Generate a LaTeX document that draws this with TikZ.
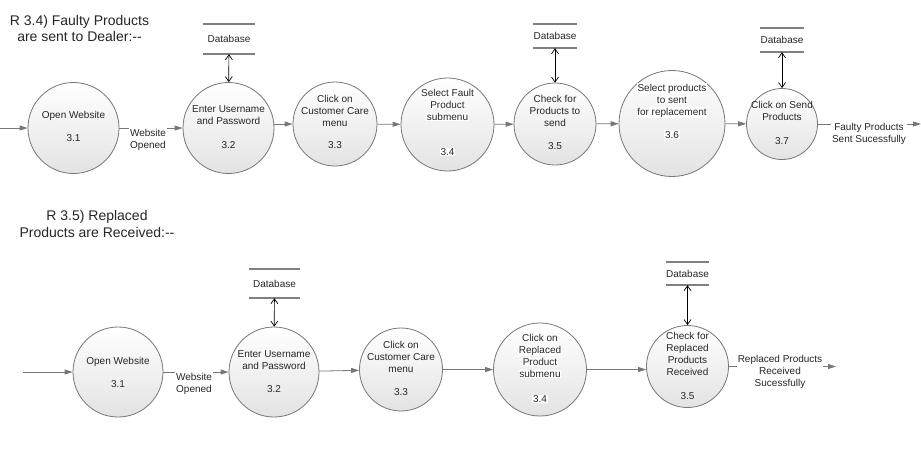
\documentclass[tikz,border=0pt]{standalone}
\usepackage{fontspec}
\setmainfont{Liberation Sans}
\usetikzlibrary{arrows.meta}
\definecolor{edge}{HTML}{777777}
\definecolor{ink}{HTML}{262626}
\newcommand{\wline}[1]{{\setlength{\fboxsep}{0.6pt}\colorbox{white}{#1}}}
\begin{document}
\begin{tikzpicture}[x=1pt,y=-1pt,
 proc/.style={circle, draw=edge, line width=0.8pt, top color=white, bottom color=black!11, inner sep=0pt},
 ptext/.style={align=center, font=\fontsize{10}{12}\selectfont, text=ink, inner sep=0.5pt},
 flow/.style={draw=edge, line width=0.8pt, -{Triangle[length=8pt,width=5pt]}},
 dbarrow/.style={draw=black, line width=0.7pt, {Straight Barb[length=5pt,width=7pt]}-{Straight Barb[length=5pt,width=7pt]}},
 store/.style={inner sep=0pt, font=\fontsize{10}{12}\selectfont, text=ink},
 storeline/.style={draw=black!50, line width=2pt},
 flowlabel/.style={fill=white, align=center, font=\fontsize{10}{12}\selectfont, text=ink, inner xsep=1pt, inner ysep=4pt},
 title/.style={align=center, font=\fontsize{14}{16.5}\selectfont, text=ink}]
\useasboundingbox[fill=white] (0,0) rectangle (921,467);

% ---------- titles
\node[title] (ti1) at (79.5,28.5) {R 3.4) Faulty Products\\are sent to Dealer:-{}-};
\node[title] (ti2) at (97,224) {R 3.5) Replaced\\Products are Received:-{}-};

% ---------- top row processes
\node[proc, minimum size=91pt] (p1) at (73.5,128) {};
\node[proc, minimum size=91pt] (p2) at (228.5,128) {};
\node[proc, minimum size=84pt] (p3) at (335,124) {};
\node[proc, minimum size=93pt] (p4) at (447.5,124.5) {};
\node[proc, minimum size=82pt] (p5) at (555,124) {};
\node[proc, minimum size=106pt] (p6) at (672,123.5) {};
\node[proc, minimum size=71pt] (p7) at (782,124) {};

\node[ptext] (t1) at (73.5,126.5) {Open Website\\[11pt]3.1};
\node[ptext] (t2) at (228.5,127) {Enter Username\\and Password\\[12pt]3.2};
\node[ptext] (t3) at (335,122) {Click on\\Customer Care\\menu\\[10pt]3.3};
\node[ptext] (t4) at (447.5,122.5) {\wline{Select Fault}\\\wline{Product}\\\wline{submenu}\\[23pt]\wline{3.4}};
\node[ptext] (t5) at (555,122.5) {Check for\\Products to\\send\\[11pt]3.5};
\node[ptext] (t6) at (672,111) {\wline{Select products}\\\wline{to sent}\\\wline{for replacement}\\[11pt]\wline{3.6}};
\node[ptext] (t7) at (782,123) {Click on Send\\Products\\[12pt]3.7};

% top databases
\node[store, minimum width=52pt, minimum height=30pt] (d1) at (229,39) {Database};
\node[store, minimum width=42pt, minimum height=24pt] (d2) at (555,36) {Database};
\node[store, minimum width=40pt, minimum height=24pt] (d3) at (782,40) {Database};
\foreach \d in {d1,d2,d3}
  \draw[storeline] (\d.north west) -- (\d.north east) (\d.south west) -- (\d.south east);
\draw[dbarrow] (d1) -- (p2);
\draw[dbarrow] (d2) -- (p5);
\draw[dbarrow] (d3) -- (p7);

% top flows
\coordinate (in1) at (0,128);
\coordinate (out1) at (921,124);
\draw[flow] (in1) -- (p1);
\draw[flow] (p1) -- (p2);
\draw[flow] (p2.east |- p3) -- (p3);
\draw[flow] (p3) -- (p4);
\draw[flow] (p4) -- (p5);
\draw[flow] (p5) -- (p6);
\draw[flow] (p6) -- (p7);
\draw[flow] (p7) -- (out1);
\node[flowlabel] (fl1) at (148,139.5) {Website\\Opened};
\node[flowlabel] (fl2) at (869,134) {Faulty Products\\Sent Sucessfully};

% ---------- bottom row processes
\node[proc, minimum size=90pt] (q1) at (118,372) {};
\node[proc, minimum size=90pt] (q2) at (274,372) {};
\node[proc, minimum size=83pt] (q3) at (401,369.5) {};
\node[proc, minimum size=93pt] (q4) at (540,369.5) {};
\node[proc, minimum size=82pt] (q5) at (687.5,366.5) {};

\node[ptext] (u1) at (118,372) {Open Website\\[11pt]3.1};
\node[ptext] (u2) at (274,372) {Enter Username\\and Password\\[11pt]3.2};
\node[ptext] (u3) at (401,368.5) {Click on\\Customer Care\\menu\\[11pt]3.3};
\node[ptext] (u4) at (540,368.5) {\wline{Click on}\\\wline{Replaced}\\\wline{Product}\\\wline{submenu}\\[13pt]\wline{3.4}};
\node[ptext] (u5) at (687.5,365.5) {Check for\\Replaced\\Products\\Received\\[12pt]3.5};

% bottom databases
\node[store, minimum width=50pt, minimum height=29pt] (e1) at (274.5,283.5) {Database};
\node[store, minimum width=41pt, minimum height=23pt] (e2) at (687.5,273.5) {Database};
\foreach \d in {e1,e2}
  \draw[storeline] (\d.north west) -- (\d.north east) (\d.south west) -- (\d.south east);
\draw[dbarrow] (e1) -- (q2);
\draw[dbarrow] (e2) -- (q5);

% bottom flows
\coordinate (in2) at (23,372);
\coordinate (out2) at (836,366.5);
\draw[flow] (in2) -- (q1);
\draw[flow] (q1) -- (q2);
\draw[flow] (q2) -- (q3);
\draw[flow] (q3) -- (q4);
\draw[flow] (q4) -- (q4 -| q5.west);
\draw[flow] (q5) -- (out2);
\node[flowlabel] (fl3) at (194,383.5) {Website\\Opened};
\node[flowlabel] (fl4) at (780,371.5) {Replaced Products\\Received\\Sucessfully};
\end{tikzpicture}
\end{document}
